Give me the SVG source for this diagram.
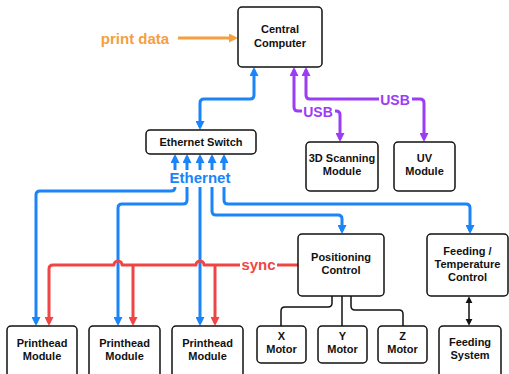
<svg xmlns="http://www.w3.org/2000/svg" width="509" height="374" viewBox="0 0 509 374">
<style>
.box{fill:#fff;stroke:#111;stroke-width:1.5}
.t{font-family:"Liberation Sans",Arial,sans-serif;font-weight:bold;font-size:11px;fill:#111;text-anchor:middle}
.lbl{font-family:"Liberation Sans",Arial,sans-serif;font-weight:bold;font-size:15px;text-anchor:middle}
.c{fill:none;stroke-width:3;stroke-linejoin:round}
.blue{stroke:#1a84fb}
.red{stroke:#f04545}
.pur{stroke:#9b3cf6}
.org{stroke:#f4a03e}
.blk{fill:none;stroke:#111;stroke-width:1.5}
</style>
<defs>
<marker id="ab" viewBox="0 0 10 10" refX="6.7" refY="5" markerWidth="9" markerHeight="9" markerUnits="userSpaceOnUse" orient="auto-start-reverse"><path d="M0,0 L10,5 L0,10 z" fill="#1a84fb"/></marker>
<marker id="ar" viewBox="0 0 10 10" refX="6.7" refY="5" markerWidth="9" markerHeight="9" markerUnits="userSpaceOnUse" orient="auto-start-reverse"><path d="M0,0 L10,5 L0,10 z" fill="#f04545"/></marker>
<marker id="ap" viewBox="0 0 10 10" refX="6.7" refY="5" markerWidth="9" markerHeight="9" markerUnits="userSpaceOnUse" orient="auto-start-reverse"><path d="M0,0 L10,5 L0,10 z" fill="#9b3cf6"/></marker>
<marker id="ao" viewBox="0 0 10 10" refX="6.7" refY="5" markerWidth="9" markerHeight="9" markerUnits="userSpaceOnUse" orient="auto-start-reverse"><path d="M0,0 L10,5 L0,10 z" fill="#f4a03e"/></marker>
<marker id="ak" viewBox="0 0 10 10" refX="6" refY="5" markerWidth="7" markerHeight="8" markerUnits="userSpaceOnUse" orient="auto-start-reverse"><path d="M0,0 L10,5 L0,10 z" fill="#111"/></marker>
</defs>
<g id="connectors">
<path class="c org" d="M178,38 L235,38" marker-end="url(#ao)"/>
<path class="c blue" d="M254,70 L254,95 Q254,99 250,99 L204,99 Q200,99 200,103 L200,127" marker-start="url(#ab)" marker-end="url(#ab)"/>
<path class="c pur" d="M294,70 L294,107 Q294,111 298,111 L336,111 Q340,111 340,115 L340,139" marker-start="url(#ap)" marker-end="url(#ap)"/>
<path class="c pur" d="M306,70 L306,95 Q306,99 310,99 L420,99 Q424,99 424,103 L424,139" marker-start="url(#ap)" marker-end="url(#ap)"/>
<path class="c blue" d="M175,157 L175,187 Q175,191 171,191 L40,191 Q36,191 36,195 L36,323" marker-start="url(#ab)" marker-end="url(#ab)"/>
<path class="c blue" d="M187,157 L187,200 Q187,204 183,204 L122,204 Q118,204 118,208 L118,323" marker-start="url(#ab)" marker-end="url(#ab)"/>
<path class="c blue" d="M200,157 L200,323" marker-start="url(#ab)" marker-end="url(#ab)"/>
<path class="c blue" d="M212,157 L212,211 Q212,215 216,215 L338,215 Q342,215 342,219 L342,231" marker-start="url(#ab)" marker-end="url(#ab)"/>
<path class="c blue" d="M224,157 L224,200 Q224,204 228,204 L466,204 Q470,204 470,208 L470,231" marker-start="url(#ab)" marker-end="url(#ab)"/>
<path class="c red" d="M298,265 L204,265 A4,4 0 0 0 196,265 L122,265 A4,4 0 0 0 114,265 L53,265 Q49,265 49,269 L49,323" marker-end="url(#ar)"/>
<path class="c red" d="M133,265 L133,323" marker-end="url(#ar)"/>
<path class="c red" d="M215,265 L215,323" marker-end="url(#ar)"/>
<path class="blk" d="M332,296 L332,303 Q332,307 328,307 L285,307 Q281,307 281,311 L281,326"/>
<path class="blk" d="M342,296 L342,326"/>
<path class="blk" d="M351,296 L351,306 Q351,310 355,310 L399,310 Q403,310 403,314 L403,326"/>
<path class="blk" d="M469,299 L469,323" marker-start="url(#ak)" marker-end="url(#ak)"/>
<rect x="168" y="170" width="64" height="17" fill="#fff"/>
<text class="lbl" x="200" y="183" fill="#1a84fb">Ethernet</text>
<rect x="302" y="103" width="33" height="16" fill="#fff"/>
<text class="lbl" x="318" y="116.5" fill="#9b3cf6" style="font-size:14px">USB</text>
<rect x="379" y="91" width="33" height="16" fill="#fff"/>
<text class="lbl" x="395" y="104.5" fill="#9b3cf6" style="font-size:14px">USB</text>
<rect x="240" y="258" width="37" height="15" fill="#fff"/>
<text class="lbl" x="258.5" y="270" fill="#f04545">sync</text>
<text class="lbl" x="135" y="43.5" fill="#f4a03e">print data</text>
</g>
<g id="central"><rect class="box" x="238" y="7" width="84" height="60" rx="4"/><text class="t" x="280" y="33">Central</text><text class="t" x="280" y="47">Computer</text></g>
<g id="switch"><rect class="box" x="146" y="130" width="110" height="24" rx="4"/><text class="t" x="201" y="146">Ethernet Switch</text></g>
<g id="scan3d"><rect class="box" x="306" y="142" width="72" height="49" rx="4"/><text class="t" x="342" y="162">3D Scanning</text><text class="t" x="342" y="175">Module</text></g>
<g id="uv"><rect class="box" x="394" y="142" width="61" height="49" rx="4"/><text class="t" x="424.5" y="162">UV</text><text class="t" x="424.5" y="175">Module</text></g>
<g id="positioning"><rect class="box" x="298" y="234" width="86" height="62" rx="4"/><text class="t" x="341" y="261">Positioning</text><text class="t" x="341" y="274">Control</text></g>
<g id="feedtemp"><rect class="box" x="427" y="234" width="81" height="62" rx="4"/><text class="t" x="467.5" y="255">Feeding /</text><text class="t" x="467.5" y="268">Temperature</text><text class="t" x="467.5" y="281">Control</text></g>
<g id="xmotor"><rect class="box" x="257" y="326" width="49" height="37" rx="4"/><text class="t" x="281.5" y="340">X</text><text class="t" x="281.5" y="353">Motor</text></g>
<g id="ymotor"><rect class="box" x="318" y="326" width="49" height="37" rx="4"/><text class="t" x="342.5" y="340">Y</text><text class="t" x="342.5" y="353">Motor</text></g>
<g id="zmotor"><rect class="box" x="378" y="326" width="49" height="37" rx="4"/><text class="t" x="402.5" y="340">Z</text><text class="t" x="402.5" y="353">Motor</text></g>
<g id="feeding"><rect class="box" x="439" y="326" width="62" height="56" rx="4"/><text class="t" x="470" y="346">Feeding</text><text class="t" x="470" y="359">System</text></g>
<g id="ph1"><rect class="box" x="7" y="326" width="70" height="56" rx="4"/><text class="t" x="42" y="347">Printhead</text><text class="t" x="42" y="360">Module</text></g>
<g id="ph2"><rect class="box" x="89" y="326" width="71" height="56" rx="4"/><text class="t" x="124.5" y="347">Printhead</text><text class="t" x="124.5" y="360">Module</text></g>
<g id="ph3"><rect class="box" x="172" y="326" width="71" height="56" rx="4"/><text class="t" x="207.5" y="347">Printhead</text><text class="t" x="207.5" y="360">Module</text></g>
</svg>
